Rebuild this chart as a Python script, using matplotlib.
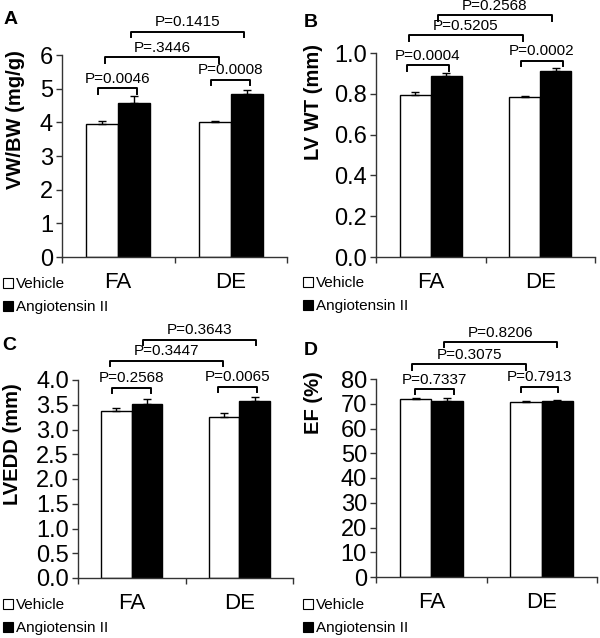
import numpy as np
import matplotlib
matplotlib.use("Agg")
import matplotlib.pyplot as plt
from matplotlib.patches import Patch

plt.rcParams['font.family'] = ['Liberation Sans', 'DejaVu Sans']

groups = ["FA", "DE"]
series = ["Vehicle", "Angiotensin II"]

# panel A: VW/BW
vw_vehicle = [3.94, 4.02]
vw_vehicle_err = [0.10, 0.03]
vw_angio = [4.58, 4.83]
vw_angio_err = [0.20, 0.13]

# panel B: LV WT
wt_vehicle = [0.796, 0.783]
wt_vehicle_err = [0.014, 0.008]
wt_angio = [0.889, 0.912]
wt_angio_err = [0.014, 0.013]

# panel C: LVEDD
edd_vehicle = [3.37, 3.26]
edd_vehicle_err = [0.07, 0.07]
edd_angio = [3.51, 3.57]
edd_angio_err = [0.10, 0.08]

# panel D: EF
ef_vehicle = [71.8, 70.7]
ef_vehicle_err = [0.6, 0.5]
ef_angio = [71.2, 71.0]
ef_angio_err = [1.0, 0.6]

# p-value labels: FA inner, vehicle pair, angio pair, DE inner
p_a = ["P=0.0046", "P=.3446", "P=0.1415", "P=0.0008"]
p_b = ["P=0.0004", "P=0.5205", "P=0.2568", "P=0.0002"]
p_c = ["P=0.2568", "P=0.3447", "P=0.3643", "P=0.0065"]
p_d = ["P=0.7337", "P=0.3075", "P=0.8206", "P=0.7913"]

W, H = 600, 638
fig = plt.figure(figsize=(W / 100, H / 100), dpi=100)

panels = [
    dict(letter="A", rect=(62, 257, 225, 202), lp=(4, 24),
         veh=vw_vehicle, veh_e=vw_vehicle_err, ang=vw_angio, ang_e=vw_angio_err,
         ymax=6, step=1, fmt="%d", ylabel="VW/BW (mg/g)", lab=(-0.164, 0.678),
         pv=p_a, leg=(3, 277),
         br=[(-0.177, 0.169, 5.01), (-0.118, 0.898, 5.93), (0.11, 1.12, 6.69), (0.824, 1.171, 5.26)]),
    dict(letter="B", rect=(376, 257, 219, 204), lp=(304, 27),
         veh=wt_vehicle, veh_e=wt_vehicle_err, ang=wt_angio, ang_e=wt_angio_err,
         ymax=1.0, step=0.2, fmt="%.1f", ylabel="LV WT (mm)", lab=(-0.242, 0.76),
         pv=p_b, leg=(303, 276),
         br=[(-0.22, 0.167, 0.941), (-0.196, 0.84, 1.088), (0.069, 1.104, 1.186), (0.82, 1.21, 0.962)]),
    dict(letter="C", rect=(78, 578, 215, 198), lp=(2, 350),
         veh=edd_vehicle, veh_e=edd_vehicle_err, ang=edd_angio, ang_e=edd_angio_err,
         ymax=4.0, step=0.5, fmt="%.1f", ylabel="LVEDD (mm)", lab=(-0.26, 0.677),
         pv=p_c, leg=(3, 598),
         br=[(-0.18, 0.18, 3.845), (-0.2, 0.85, 4.39), (0.1, 1.156, 4.81), (0.805, 1.168, 3.86)]),
    dict(letter="D", rect=(376, 577, 221, 198), lp=(304, 355),
         veh=ef_vehicle, veh_e=ef_vehicle_err, ang=ef_angio, ang_e=ef_angio_err,
         ymax=80, step=10, fmt="%d", ylabel="EF (%)", lab=(-0.24, 0.88),
         pv=p_d, leg=(303, 598),
         br=[(-0.147, 0.206, 75.96), (-0.17, 0.855, 85.9), (0.115, 1.14, 94.9), (0.81, 1.15, 76.8)]),
]

axis_col = "#333333"
bw = 0.285
x = np.arange(len(groups))

for p in panels:
    left, bottom, w, h = p["rect"]
    ax = fig.add_axes([left / W, 1 - bottom / H, w / W, h / H])

    ax.bar(x - bw / 2, p["veh"], bw, color="white", edgecolor="black", linewidth=1.0, zorder=2)
    ax.bar(x + bw / 2, p["ang"], bw, color="black", edgecolor="black", linewidth=1.0, zorder=2)
    ax.errorbar(x - bw / 2, p["veh"], yerr=[np.zeros(2), p["veh_e"]], fmt="none",
                ecolor="black", elinewidth=1, capsize=3, capthick=1, zorder=3)
    ax.errorbar(x + bw / 2, p["ang"], yerr=[np.zeros(2), p["ang_e"]], fmt="none",
                ecolor="black", elinewidth=1, capsize=3, capthick=1, zorder=3)

    ax.set_xlim(-0.5, 1.5)
    ax.set_ylim(0, p["ymax"])
    ticks = np.arange(0, p["ymax"] + p["step"] / 2, p["step"])
    ax.set_yticks(ticks)
    ax.set_yticklabels([p["fmt"] % t for t in ticks], fontsize=17)
    ax.set_xticks(x)
    ax.set_xticklabels(groups, fontsize=16)
    ax.set_xticks([-0.5, 0.5, 1.5], minor=True)
    ax.tick_params(axis="x", which="major", length=0, pad=11)
    ax.tick_params(axis="x", which="minor", length=4.5, width=1, color=axis_col, direction="out")
    ax.tick_params(axis="y", length=4.5, width=1, color=axis_col, direction="out", pad=2)

    for s in ["top", "right"]:
        ax.spines[s].set_visible(False)
    for s in ["left", "bottom"]:
        ax.spines[s].set_color(axis_col)
        ax.spines[s].set_linewidth(1.0)

    ax.set_ylabel(p["ylabel"], fontsize=14.5, fontweight="bold")
    ax.yaxis.set_label_coords(*p["lab"])

    # significance brackets
    leg_len = 0.027 * p["ymax"]
    for (x0, x1, yt), label in zip(p["br"], p["pv"]):
        ax.plot([x0, x0, x1, x1], [yt - leg_len, yt, yt, yt - leg_len],
                color="black", lw=1.4, clip_on=False, zorder=4)
        ax.annotate(label, ((x0 + x1) / 2, yt), xytext=(0, 6.8), textcoords="offset points",
                    ha="center", va="center", fontsize=11, annotation_clip=False)

    fig.text(p["lp"][0] / W, 1 - p["lp"][1] / H, p["letter"], fontsize=14,
             fontweight="bold", ha="left", va="baseline")

    handles = [Patch(facecolor="white", edgecolor="black", linewidth=0.8),
               Patch(facecolor="black", edgecolor="black", linewidth=0.8)]
    fig.legend(handles, series, loc="upper left",
               bbox_to_anchor=(p["leg"][0] / W, 1 - p["leg"][1] / H),
               frameon=False, fontsize=11, handlelength=0.65, handleheight=0.65,
               handletextpad=0.2, labelspacing=0.6, borderpad=0, borderaxespad=0)

fig.savefig("out.png", dpi=100)
